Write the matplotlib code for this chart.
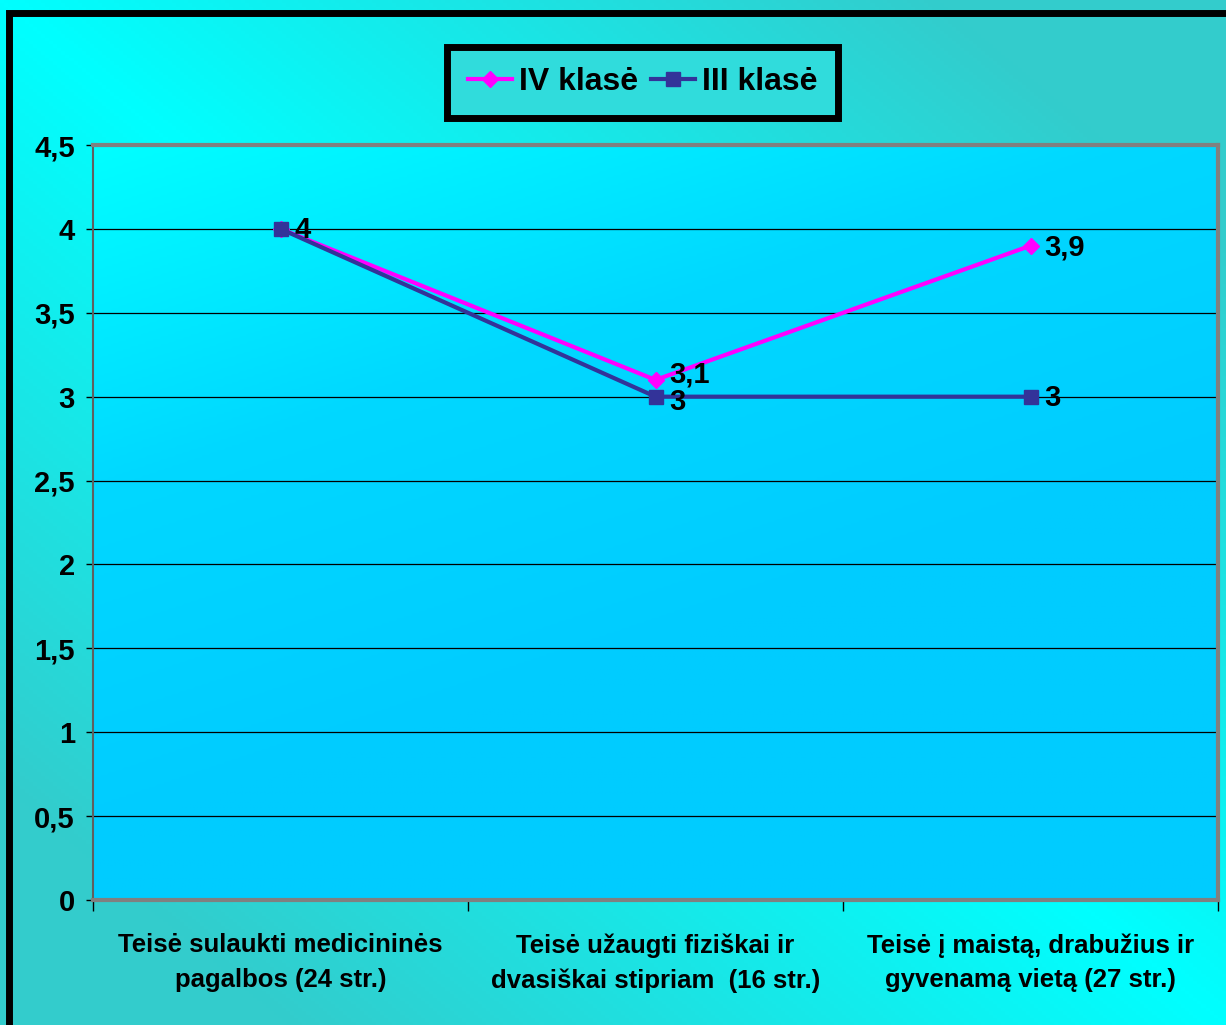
import numpy as np
import matplotlib.pyplot as plt
from matplotlib.colors import LinearSegmentedColormap
from matplotlib.patches import Rectangle

plt.rcParams['font.family'] = ['Liberation Sans Narrow', 'Liberation Sans', 'DejaVu Sans']
plt.rcParams['font.weight'] = 'bold'

# data
categories = ['Teisė sulaukti medicininės\npagalbos (24 str.)',
              'Teisė užaugti fiziškai ir\ndvasiškai stipriam  (16 str.)',
              'Teisė į maistą, drabužius ir\ngyvenamą vietą (27 str.)']
iv_klase = [4, 3.1, 3.9]
iii_klase = [4, 3, 3]
iv_labels = ['4', '3,1', '3,9']
iii_labels = ['4', '3', '3']
y_ticks = [0, 0.5, 1, 1.5, 2, 2.5, 3, 3.5, 4, 4.5]
y_ticklabels = ['0', '0,5', '1', '1,5', '2', '2,5', '3', '3,5', '4', '4,5']

fig = plt.figure(figsize=(12.26, 10.25), dpi=100)

# outer background gradient
bg = fig.add_axes([0, 0, 1, 1], zorder=-10)
xx, yy = np.meshgrid(np.linspace(0, 1, 300), np.linspace(0, 1, 300))
t = np.clip(np.abs(xx - yy) * 1.3, 0, 1)
cmap_bg = LinearSegmentedColormap.from_list('bg', ['#00FFFF', '#33CCCC'])
bg.imshow(t, cmap=cmap_bg, extent=[0, 1, 0, 1], aspect='auto', origin='upper')
bg.set_xlim(0, 1)
bg.set_ylim(0, 1)
bg.axis('off')
# black outer frame (top and left visible)
bg.add_patch(Rectangle((0.007, -0.1), 1.2, 1.087, fill=False, edgecolor='black',
                       linewidth=5, transform=bg.transAxes, clip_on=False))

ax = fig.add_axes([0.0759, 0.122, 0.9176, 0.7365])
ax.set_facecolor('none')
x = np.arange(len(categories))
ax.set_xlim(-0.5, 2.5)
ax.set_ylim(0, 4.5)

# plot area gradient
pxx, pyy = np.meshgrid(np.linspace(0, 1, 300), np.linspace(0, 1, 300))
pt = np.clip((pxx * 0.6 + (1 - pyy) * 1.2) / 1.1, 0, 1)
cmap_pa = LinearSegmentedColormap.from_list('pa', ['#00FFFF', '#00D8FF', '#00CCFF'])
ax.imshow(pt, cmap=cmap_pa, extent=[-0.5, 2.5, 0, 4.5], aspect='auto',
          origin='lower', zorder=0)

for yv in y_ticks[1:]:
    ax.axhline(yv, color='black', linewidth=0.9, zorder=1)

ax.plot(x, iv_klase, color='#FF00FF', marker='D', markersize=8, linewidth=3,
        label='IV klasė', zorder=3)
ax.plot(x, iii_klase, color='#333399', marker='s', markersize=10, linewidth=3,
        label='III klasė', zorder=4)

# data labels
for i in range(3):
    ax.annotate(iv_labels[i], (x[i], iv_klase[i]), xytext=(10, 4 if i == 1 else -1),
                textcoords='offset points', ha='left', va='center',
                fontsize=21, fontweight='bold', zorder=5)
for i in [1, 2]:
    ax.annotate(iii_labels[i], (x[i], iii_klase[i]), xytext=(10, -4 if i == 1 else -1),
                textcoords='offset points', ha='left', va='center',
                fontsize=21, fontweight='bold', zorder=5)

# axes styling
ax.set_yticks(y_ticks)
ax.set_yticklabels(y_ticklabels, fontsize=21, fontweight='bold')
ax.set_xticks([-0.5, 0.5, 1.5, 2.5])
ax.set_xticklabels([])
ax.set_xticks(x, minor=True)
ax.set_xticklabels(categories, minor=True, fontsize=18.5, fontweight='bold',
                   linespacing=1.55)
ax.tick_params(axis='x', which='minor', length=0, pad=24)
ax.tick_params(axis='x', which='major', length=8, width=1, direction='out')
ax.tick_params(axis='y', length=5, width=1, direction='out', pad=8)
for s in ['top', 'right', 'bottom']:
    ax.spines[s].set_color('#808080')
    ax.spines[s].set_linewidth(3)
ax.spines['left'].set_color('#606060')
ax.spines['left'].set_linewidth(1.5)

leg = fig.legend(loc='upper center', bbox_to_anchor=(0.524, 0.97), ncol=2,
                 prop={'size': 23, 'weight': 'bold'}, frameon=True, fancybox=False,
                 handlelength=1.4, handletextpad=0.2, columnspacing=0.4,
                 borderpad=0.65)
leg.get_frame().set_edgecolor('black')
leg.get_frame().set_linewidth(5)
leg.get_frame().set_facecolor('#30DCDC')
leg.get_frame().set_alpha(1)

plt.savefig('out.png', dpi=100)
